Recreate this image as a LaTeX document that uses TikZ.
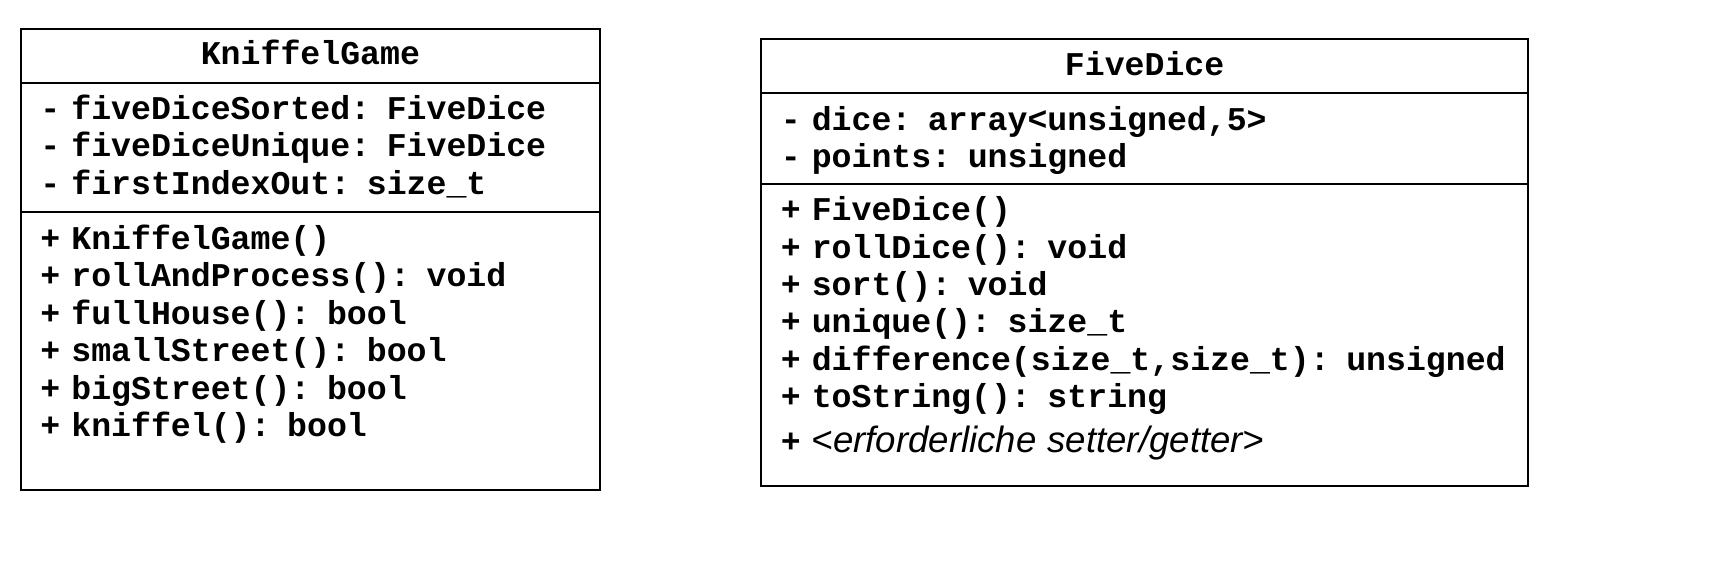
\documentclass[tikz,border=0pt]{standalone}
\usepackage{fontspec}
\setmonofont{Liberation Mono}
\newfontfamily\umlsans{Liberation Sans}
\usetikzlibrary{positioning}

\begin{document}
\begin{tikzpicture}[
        node distance=0pt,
        umlbox/.style={
            draw,
            rectangle,
            line width=1pt,
            inner xsep=4pt,
            inner ysep=0pt,
            outer sep=0pt,
            font=\ttfamily\bfseries\fontsize{16.6}{18.7}\selectfont
        },
        classname/.style={umlbox, align=center},
        members/.style={umlbox, align=left,
            execute at begin node={\leftskip=5.8pt}}
    ]

    \useasboundingbox (0,0) rectangle (855pt,-282pt);

    % KniffelGame
    \node[classname, anchor=north west, text width=281.6pt,
          text height=17.3pt, text depth=9.4pt] (kgName) at (10.4pt,-14.7pt) {KniffelGame};

    \node[members, text width=281.6pt, text height=18.2pt, text depth=46.15pt]
        (kgAttr) [below=of kgName] {%
    - fiveDiceSorted: FiveDice\\
    - fiveDiceUnique: FiveDice\\
    - firstIndexOut: size\_t
    };

    \node[members, text width=281.6pt, text height=19pt, text depth=120pt]
        (kgOps) [below=of kgAttr] {%
    + KniffelGame()\\
    + rollAndProcess(): void\\
    + fullHouse(): bool\\
    + smallStreet(): bool\\
    + bigStreet(): bool\\
    + kniffel(): bool
    };

    % FiveDice
    \node[classname, anchor=north west, text width=375.4pt,
          text height=17.9pt, text depth=8.8pt] (fdName) at (380.6pt,-19.6pt) {FiveDice};

    \node[members, text width=375.4pt, text height=18.8pt, text depth=27pt]
        (fdAttr) [below=of fdName] {%
    - dice: array<unsigned,5>\\
    - points: unsigned
    };

    \node[members, text width=375.4pt, text height=18.2pt, text depth=132.8pt]
        (fdOps) [below=of fdAttr] {%
    + FiveDice()\\
    + rollDice(): void\\
    + sort(): void\\
    + unique(): size\_t\\
    + difference(size\_t,size\_t): unsigned\\
    + toString(): string\\[3.5pt]
    + {\umlsans\mdseries\itshape\fontsize{18.3}{18.7}\selectfont <erforderliche setter/getter>}
    };

\end{tikzpicture}
\end{document}
